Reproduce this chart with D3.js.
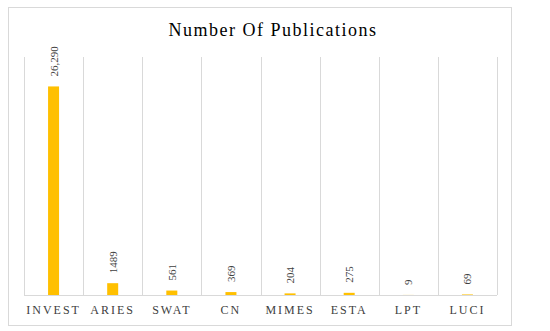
<!DOCTYPE html>
<html><head><meta charset="utf-8">
<script src="https://cdn.jsdelivr.net/npm/d3@7"></script>
<style>body{margin:0;background:#fff}svg{display:block}</style>
</head><body>
<script>
const categories = ["INVEST","ARIES","SWAT","CN","MIMES","ESTA","LPT","LUCI"];
const values = [26290,1489,561,369,204,275,9,69];
const valueLabels = ["26,290","1489","561","369","204","275","9","69"];
const title = "Number Of Publications";

const W = 550, H = 331;
const svg = d3.select("body").append("svg").attr("width", W).attr("height", H);
const font = "'Liberation Serif','Times New Roman',serif";

svg.append("rect").attr("x", 8.5).attr("y", 7.5).attr("width", 503).attr("height", 318)
  .attr("fill", "#fff").attr("stroke", "#d9d9d9");

const x = d3.scaleBand().domain(categories).range([24, 497]).padding(0);
const y = d3.scaleLinear().domain([0, 30000]).range([295, 57]);

const g = svg.append("g");
// vertical separators
const edges = categories.map(c => x(c)).concat([x.range()[1]]);
g.selectAll("line.sep").data(edges).join("line")
  .attr("x1", d => Math.round(d) + 0.5).attr("x2", d => Math.round(d) + 0.5)
  .attr("y1", y(30000)).attr("y2", y(0))
  .attr("stroke", "#d9d9d9");
g.append("line").attr("x1", 24).attr("x2", 497).attr("y1", y(0) + 0.5).attr("y2", y(0) + 0.5)
  .attr("stroke", "#d9d9d9");

const bw = 11;
g.selectAll("rect.bar").data(values).join("rect")
  .attr("x", (d, i) => x(categories[i]) + x.bandwidth() / 2 - bw / 2)
  .attr("y", d => y(d)).attr("width", bw).attr("height", d => y(0) - y(d))
  .attr("fill", "#FFC000");

g.selectAll("text.val").data(values).join("text")
  .attr("transform", (d, i) => `translate(${x(categories[i]) + x.bandwidth() / 2 + 4},${y(d) - 10}) rotate(-90)`)
  .attr("font-family", font).attr("font-size", 11).attr("fill", "#404040")
  .attr("text-anchor", "start")
  .text((d, i) => valueLabels[i]);

const xAxis = d3.axisBottom(x).tickSize(0).tickPadding(0);
const ax = svg.append("g").attr("transform", `translate(0,${y(0)})`).call(xAxis);
ax.select(".domain").remove();
ax.selectAll("text").attr("font-family", font).attr("font-size", 12).attr("fill", "#404040")
  .attr("letter-spacing", "2px").attr("dy", null).attr("y", 18.5);

svg.append("text").attr("x", 273).attr("y", 36).attr("text-anchor", "middle")
  .attr("font-family", font).attr("font-size", 18).attr("letter-spacing", "1.5px")
  .attr("fill", "#000").text(title);
</script>
</body></html>
